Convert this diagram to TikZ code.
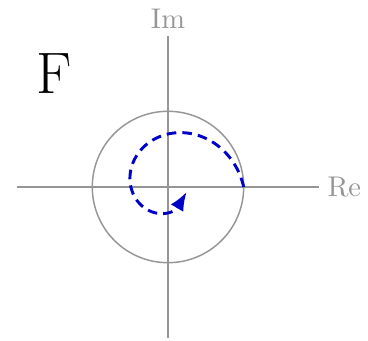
\documentclass[tikz,border=0pt]{standalone}
\usetikzlibrary{arrows.meta}
\definecolor{ax}{RGB}{150,150,150}
\definecolor{sp}{RGB}{0,0,200}
\tikzset{
  every picture/.style={line join=round},
  % Achsen und Einheitskreis
  axis/.style={ax, line width=0.55pt},
  lbl/.style={ax, font=\fontsize{10.7}{13}\selectfont, inner sep=2pt},
  % Spirale
  spiral/.style={sp, line width=1.1pt, dash pattern=on 3.6pt off 2.3pt,
    -{Latex[length=7pt,width=5.5pt]}},
  tag/.style={font=\fontsize{22}{26}\selectfont},
}
\begin{document}
\begin{tikzpicture}
  \useasboundingbox (-2.219,-2.034) rectangle (2.642,2.470);
  \coordinate (o) at (0,0);
  \coordinate (w) at (-2,0);
  \coordinate (e) at (2,0);
  \coordinate (s) at (0,-2);
  \coordinate (n) at (0,2);
  % Endpunkt der Spirale bei t = 345
  \coordinate (tip) at ({pow(0.7,345/90)*cos(345)},{pow(0.7,345/90)*sin(345)});
  % Achsen
  \draw[axis] (w) -- (e);
  \draw[axis] (s) -- (n);
  \node[lbl, anchor=west] (re) at (2.03,0) {Re};
  \node[lbl, anchor=south] (im) at (0,2.02) {Im};
  % Einheitskreis
  \draw[axis] (o) circle[radius=1];
  % r = 0.7^(t/90), von 1 nach innen
  \draw[spiral] plot[domain=0:290, samples=100, smooth, variable=\t]
    ({pow(0.7,\t/90)*cos(\t)},{pow(0.7,\t/90)*sin(\t)}) -- (tip);
  \node[tag] (f) at (-1.5,1.5) {F};
\end{tikzpicture}
\end{document}
